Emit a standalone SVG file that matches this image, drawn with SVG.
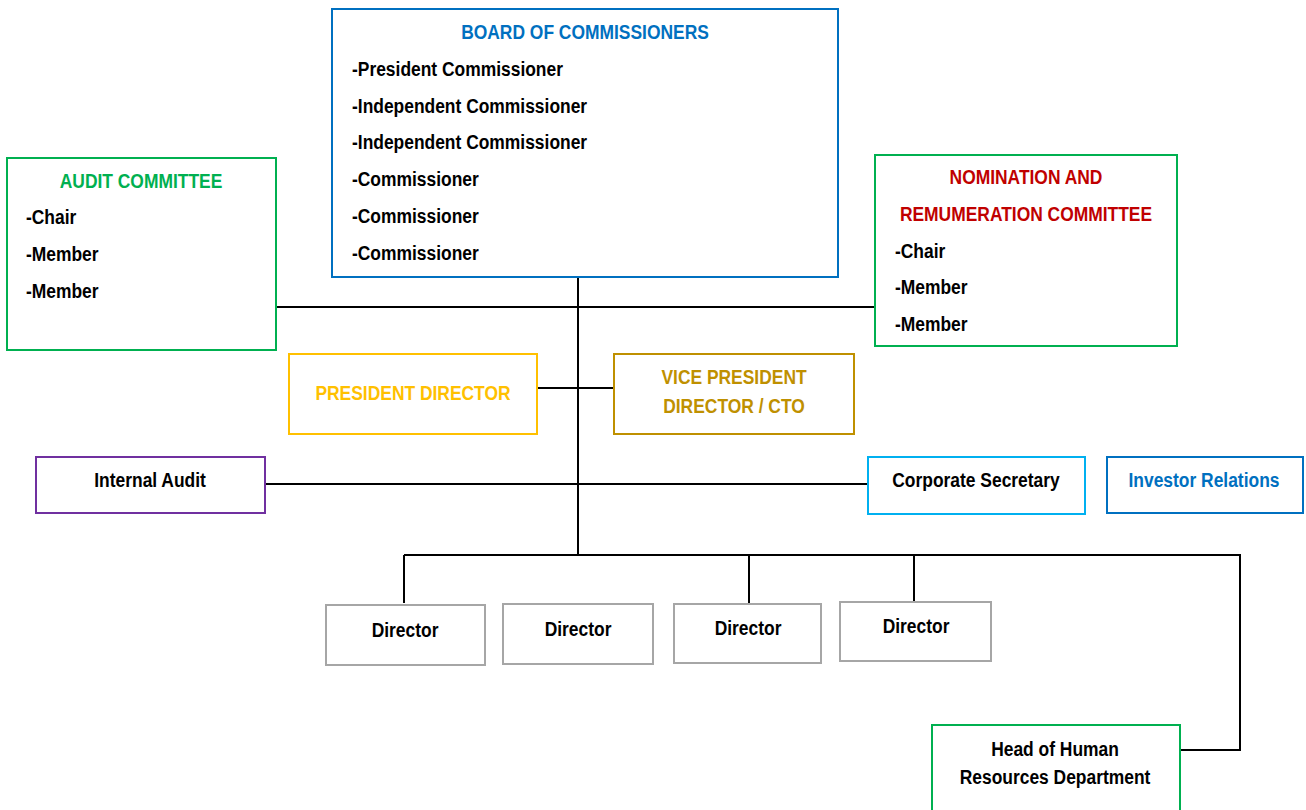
<svg xmlns="http://www.w3.org/2000/svg" width="1306" height="810" viewBox="0 0 1306 810">
<style>
text{font-family:"Liberation Sans Narrow","Arial Narrow","Liberation Sans",sans-serif;font-weight:bold;font-size:21px;fill:#000;transform-box:fill-box;transform:scaleX(0.83);transform-origin:left center}
.c{text-anchor:middle;transform-origin:center}
rect{fill:#fff;stroke-width:2}
.ln{stroke:#000;stroke-width:2;fill:none}
</style>
<rect x="0" y="0" width="1306" height="810" style="stroke:none"/>
<g id="connectors">
<path class="ln" d="M578 277V555M276 307H875M537 388H614M265 484H868M404 555H1240V750H1180M404 555V603M749 555V604M914 555V601"/>
</g>
<g id="board">
<rect x="332" y="9" width="506" height="268" stroke="#0070C0"/>
<text class="c" x="585" y="39" style="fill:#0070C0">BOARD OF COMMISSIONERS</text>
<text x="352" y="76">-President Commissioner</text>
<text x="352" y="113">-Independent Commissioner</text>
<text x="352" y="149">-Independent Commissioner</text>
<text x="352" y="186">-Commissioner</text>
<text x="352" y="223">-Commissioner</text>
<text x="352" y="260">-Commissioner</text>
</g>
<g id="audit-committee">
<rect x="7" y="158" width="269" height="192" stroke="#00B050"/>
<text class="c" x="141" y="188" style="fill:#00B050">AUDIT COMMITTEE</text>
<text x="26" y="224">-Chair</text>
<text x="26" y="261">-Member</text>
<text x="26" y="298">-Member</text>
</g>
<g id="nomination-committee">
<rect x="875" y="155" width="302" height="191" stroke="#00B050"/>
<text class="c" x="1026" y="184" style="fill:#C00000">NOMINATION AND</text>
<text class="c" x="1026" y="221" style="fill:#C00000">REMUMERATION COMMITTEE</text>
<text x="895" y="258">-Chair</text>
<text x="895" y="294">-Member</text>
<text x="895" y="331">-Member</text>
</g>
<g id="president-director">
<rect x="289" y="354" width="248" height="80" stroke="#FFC000"/>
<text class="c" x="413" y="400" style="fill:#FFC000">PRESIDENT DIRECTOR</text>
</g>
<g id="vice-president">
<rect x="614" y="354" width="240" height="80" stroke="#BF9000"/>
<text class="c" x="734" y="384" style="fill:#BF9000">VICE PRESIDENT</text>
<text class="c" x="734" y="413" style="fill:#BF9000">DIRECTOR / CTO</text>
</g>
<g id="internal-audit">
<rect x="36" y="457" width="229" height="56" stroke="#7030A0"/>
<text class="c" x="150" y="487">Internal Audit</text>
</g>
<g id="corporate-secretary">
<rect x="868" y="457" width="217" height="57" stroke="#00B0F0"/>
<text class="c" x="976" y="487">Corporate Secretary</text>
</g>
<g id="investor-relations">
<rect x="1107" y="457" width="196" height="56" stroke="#0070C0"/>
<text class="c" x="1204" y="487" style="fill:#0070C0">Investor Relations</text>
</g>
<g id="director-1">
<rect x="326" y="605" width="159" height="60" stroke="#A6A6A6"/>
<text class="c" x="405" y="637">Director</text>
</g>
<g id="director-2">
<rect x="503" y="604" width="150" height="60" stroke="#A6A6A6"/>
<text class="c" x="578" y="636">Director</text>
</g>
<g id="director-3">
<rect x="674" y="604" width="147" height="59" stroke="#A6A6A6"/>
<text class="c" x="748" y="635">Director</text>
</g>
<g id="director-4">
<rect x="840" y="602" width="151" height="59" stroke="#A6A6A6"/>
<text class="c" x="916" y="633">Director</text>
</g>
<g id="head-hr">
<rect x="932" y="725" width="248" height="100" stroke="#00B050"/>
<text class="c" x="1055" y="756">Head of Human</text>
<text class="c" x="1055" y="784">Resources Department</text>
</g>
</svg>
